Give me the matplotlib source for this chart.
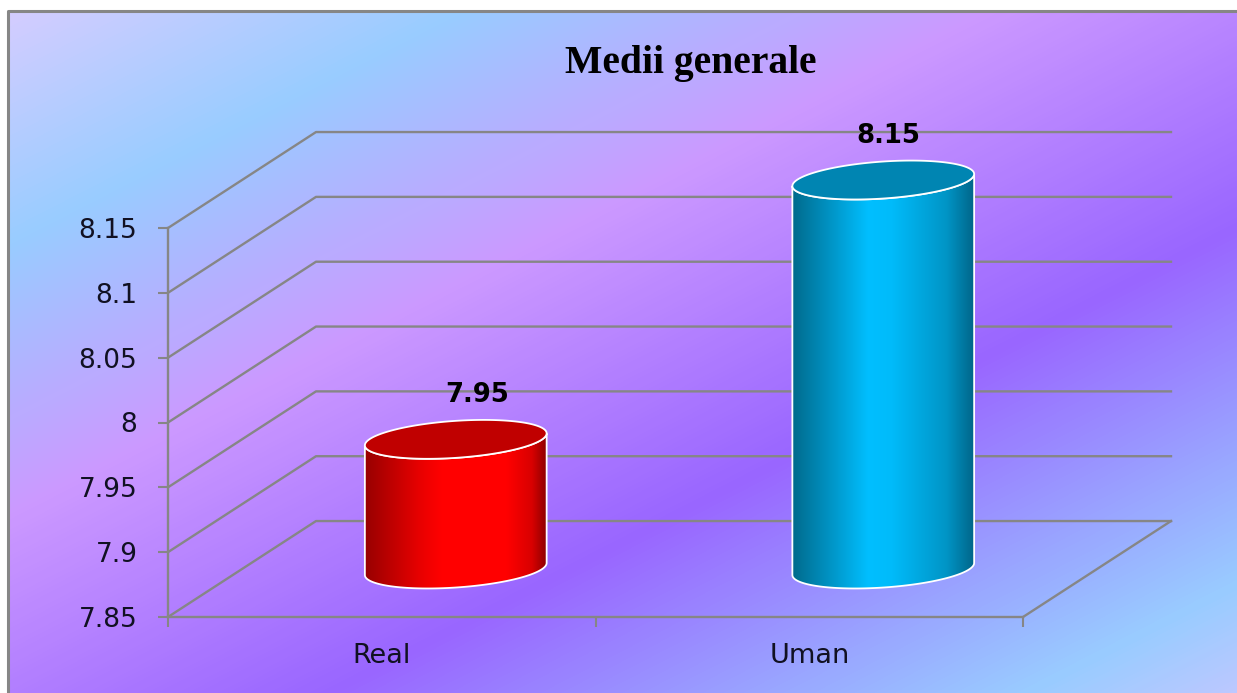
import numpy as np
import matplotlib
matplotlib.use("Agg")
import matplotlib.pyplot as plt
from matplotlib.colors import LinearSegmentedColormap
from matplotlib.patches import Polygon

categories = ["Real", "Uman"]
values = [7.95, 8.15]
y_ticks = [7.85, 7.9, 7.95, 8, 8.05, 8.1, 8.15]
y_tick_labels = ["7.85", "7.9", "7.95", "8", "8.05", "8.1", "8.15"]
title = "Medii generale"

W, H = 1237, 693
GRID = "#868686"
DEPTH_X, DEPTH_Y = 0.3462, 0.074
RX, RY, SKEW = 0.2126, 0.01427, 0.00463

bar_stops = [
    [(0.0, "#980000"), (0.3, "#e80000"), (0.42, "#ff0000"), (0.78, "#ff0000"), (0.92, "#d80000"), (1.0, "#8c0000")],
    [(0.0, "#006a8c"), (0.22, "#0096c8"), (0.42, "#00bfff"), (0.55, "#00bbfa"), (0.85, "#0095c6"), (1.0, "#00668a")],
]
top_colors = ["#c00000", "#0085b2"]
label_shift = [21, 5]

fig = plt.figure(figsize=(W / 100, H / 100), dpi=100, facecolor="white")

# background gradient runs diagonally across the whole panel
bg = fig.add_axes([0, 0, 1, 1])
xx, yy = np.meshgrid(np.arange(W), np.arange(H))
grad = (120 * xx + 234 * yy) / (120 * W + 234 * H)
bg_cmap = LinearSegmentedColormap.from_list("bg", [
    (0.0, "#d8ccff"), (0.185, "#99ccff"), (0.39, "#cc99ff"),
    (0.65, "#9966ff"), (0.92, "#99ccff"), (1.0, "#bcc8ff"),
])
bg.imshow(grad, cmap=bg_cmap, extent=(0, W, H, 0), aspect="auto", vmin=0, vmax=1)
bg.set_xlim(0, W)
bg.set_ylim(H, 0)
bg.axis("off")
bg.fill_between([0, W], 0, 11, color="white", lw=0)
bg.fill_between([0, 8], 0, H, color="white", lw=0)
bg.plot([8, 8, W], [H, 11, 11], color=GRID, lw=2.2)

ax = fig.add_axes([168 / W, (H - 617) / H, 855 / W, 389 / H])
ax.patch.set_visible(False)

# walls and floor of the fake 3d box
for v in y_ticks:
    ax.plot([0, DEPTH_X, 2 + DEPTH_X], [v, v + DEPTH_Y, v + DEPTH_Y],
            color=GRID, lw=1.7, clip_on=False, zorder=1)
ax.plot([2, 2 + DEPTH_X], [y_ticks[0], y_ticks[0] + DEPTH_Y], color=GRID, lw=1.7, clip_on=False, zorder=1)

t_front = np.linspace(0, -np.pi, 80)
t_all = np.linspace(0, 2 * np.pi, 160)


def ring(cx, cy, t):
    return np.column_stack([cx + RX * np.cos(t), cy + SKEW * np.cos(t) + RY * np.sin(t)])


for i, (name, val) in enumerate(zip(categories, values)):
    cx = i + 0.5 + DEPTH_X / 2
    y0 = y_ticks[0] + DEPTH_Y / 2
    y1 = val + DEPTH_Y / 2
    body = np.vstack([ring(cx, y0, t_front), ring(cx, y1, t_front[::-1])])
    cmap = LinearSegmentedColormap.from_list(name, bar_stops[i])
    im = ax.imshow(np.linspace(0, 1, 256).reshape(1, -1), cmap=cmap, aspect="auto", zorder=3,
                   extent=(cx - RX, cx + RX, y0 - 0.05, y1 + 0.05))
    # the top of the tall bar sits above the axes box, so clip to the figure instead
    im.set_clip_path(Polygon(body, closed=True, transform=ax.transData))
    im.set_clip_box(fig.bbox)
    ax.add_patch(Polygon(body, closed=True, fc="none", ec="white", lw=1.3, clip_on=False, zorder=4))
    ax.add_patch(Polygon(ring(cx, y1, t_all), closed=True, fc=top_colors[i], ec="white", lw=1.3,
                         clip_on=False, zorder=5))
    ax.annotate(f"{val:g}", (cx, y1), xytext=(label_shift[i] * 0.72, 32), textcoords="offset points",
                ha="center", va="center", fontsize=18.6, fontweight="bold", color="black",
                family="DejaVu Sans", annotation_clip=False, zorder=6)

ax.set_xlim(0, 2)
ax.set_ylim(y_ticks[0], y_ticks[-1])
for side in ["top", "right"]:
    ax.spines[side].set_visible(False)
for side in ["left", "bottom"]:
    ax.spines[side].set_color(GRID)
    ax.spines[side].set_linewidth(1.7)
    ax.spines[side].set_zorder(2)

ax.set_yticks(y_ticks)
ax.set_yticklabels(y_tick_labels, fontsize=19, family="DejaVu Sans", color="#111122")
ax.tick_params(axis="y", length=7, width=1.5, color=GRID, pad=15)
ax.set_xticks([0, 1, 2])
ax.set_xticklabels([])
ax.set_xticks([0.5, 1.5], minor=True)
ax.set_xticklabels(categories, minor=True, fontsize=19.5, family="DejaVu Sans", color="#111122")
ax.tick_params(axis="x", which="major", length=7, width=1.5, color=GRID)
ax.tick_params(axis="x", which="minor", length=0, pad=19)

fig.text(691 / W, 1 - 63 / H, title, ha="center", va="center", fontsize=28.5,
         fontweight="bold", family="Liberation Serif", color="black")

fig.savefig("out.png", dpi=100)
